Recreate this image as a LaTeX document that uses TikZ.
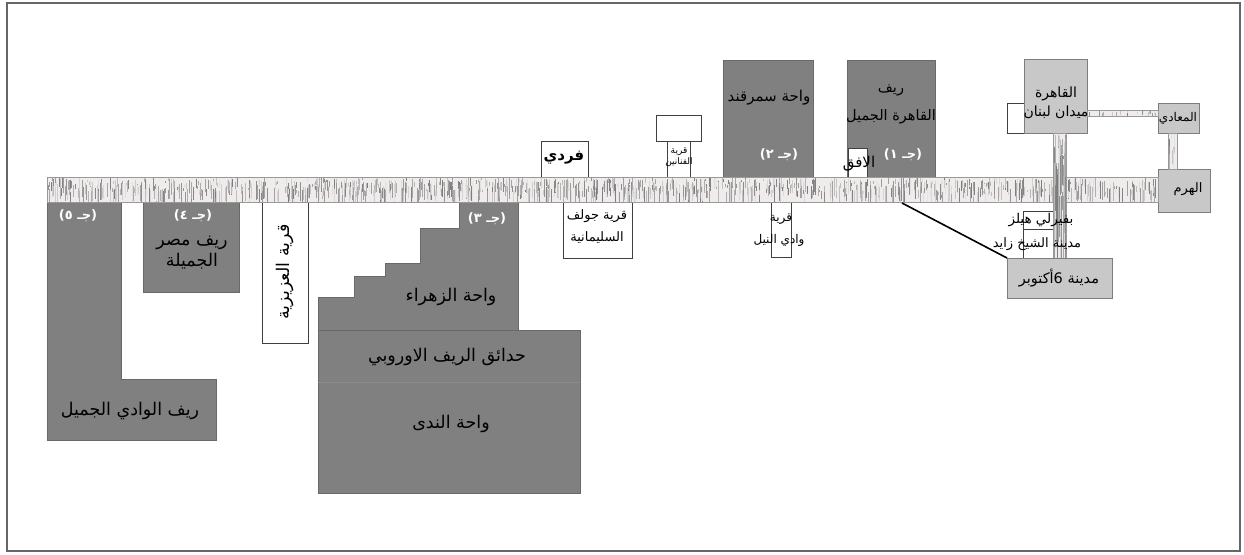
\documentclass[tikz,border=0pt]{standalone}
\usepackage{fontspec}
\newfontfamily\ar[Script=Arabic]{DejaVu Sans}
\TeXXeTstate=1
\newcommand\AR[1]{\beginR #1\endR}
\newcommand\fs[2]{\fontsize{#1}{#2}\selectfont}
\definecolor{dk}{RGB}{128,128,128}
\definecolor{dkb}{RGB}{105,105,105}
\definecolor{lt}{RGB}{200,200,200}
\definecolor{ltb}{RGB}{125,125,125}
\definecolor{roadbg}{RGB}{240,236,236}
\newcommand\roadtex[4]{%
  \fill[roadbg] (#1,#2) rectangle (#3,#4);
  \pgfmathtruncatemacro\nn{(#3-#1)/22*(#4-#2)}
  \foreach \k in {1,...,\nn}{%
    \pgfmathsetmacro\xx{#1+0.5+rnd*(#3-#1-1)}
    \pgfmathtruncatemacro\gg{10+rnd*42}
    \pgfmathsetmacro\ya{#2+rnd*(#4-#2)*0.6}
    \pgfmathsetmacro\yb{min(\ya+2+rnd*(#4-#2)*0.7,#4)}
    \draw[black!\gg, line width=0.9pt] (\xx,\ya) -- (\xx,\yb);
  }
  \draw[black!40, line width=0.7pt] (#1,#2) rectangle (#3,#4);
}
\begin{document}
\begin{tikzpicture}[x=1pt,y=-1pt,
  darkbox/.style={fill=dk, draw=dkb, line width=0.9pt},
  lightbox/.style={fill=lt, draw=ltb, line width=0.9pt},
  whitebox/.style={fill=white, draw=black!75, line width=0.8pt},
  lbl/.style={font=\ar\fs{17.5}{21}, text=black, align=center, inner sep=0pt},
  slbl/.style={font=\ar\fs{13}{22}, text=black, align=center, inner sep=0pt},
  wlbl/.style={font=\ar\bfseries\fs{13}{16}, text=white, inner sep=0pt},
  link/.style={draw=black, line width=1.6pt}]
\pgfmathsetseed{7}
\useasboundingbox (0,0) rectangle (1244,554);
\draw[black!60, line width=1.2pt] (7,3) rectangle (1240,551);

% ---- south side blocks ----
\draw[darkbox] (47,202) -- (121,202) -- (121,379) -- (216,379) -- (216,440) -- (47,440) -- cycle;
\draw[darkbox] (143,202) rectangle (239,292);
\draw[whitebox] (262,202) rectangle (308,343);
\draw[darkbox] (318,330) rectangle (580,493);
\draw[black!45, line width=0.8pt] (318,382) -- (580,382);
\draw[darkbox] (459,202) -- (518,202) -- (518,330) -- (318,330) -- (318,297) -- (354,297) -- (354,276)
  -- (385,276) -- (385,263) -- (420,263) -- (420,228) -- (459,228) -- cycle;
\draw[whitebox] (563,202) rectangle (632,258);
\draw[whitebox] (771,202) rectangle (791,257);

% ---- north side blocks ----
\draw[whitebox] (541,141) rectangle (588,177);
\draw[whitebox] (656,115) rectangle (701,141);
\draw[whitebox] (667,141) rectangle (690,177);
\draw[darkbox] (723,60) rectangle (813,177);
\draw[darkbox] (847,60) rectangle (935,177);
\draw[whitebox] (848,148) rectangle (867,177);

% ---- right cluster ----
\draw[whitebox] (1007,103) rectangle (1024,133);
\draw[lightbox] (1024,59) rectangle (1087,133);
\draw[lightbox] (1158,103) rectangle (1199,133);
\draw[lightbox] (1158,169) rectangle (1210,212);
\draw[whitebox] (1023,211) rectangle (1053,229);
\draw[whitebox] (1023,229) rectangle (1053,258);

% ---- roads ----
\roadtex{47}{177}{1158}{202}
\roadtex{1087}{110}{1158}{116}
\roadtex{1168}{133}{1177}{169}
\roadtex{1053}{133}{1066}{258}

\draw[lightbox] (1007,258) rectangle (1112,298);
\node[inner sep=0pt] (october) at (1059,278) {};
\coordinate (fork) at (902,203);
\draw[link] (fork) -- (1007,258);

% ---- labels ----
\node[wlbl] (j5) at (78,216) {\AR{(جـ ٥)}};
\node[lbl] (wadi) at (130,411) {\AR{ريف الوادي الجميل}};
\node[wlbl] (j4) at (193,216) {\AR{(جـ ٤)}};
\node[lbl] (misr) at (192,253) {\AR{ريف مصر}\\\AR{الجميلة}};
\node[lbl, rotate=90] (aziz) at (285,272) {\AR{قرية العزيزية}};
\node[wlbl] (j3) at (487,219) {\AR{(جـ ٣)}};
\node[lbl] (zahraa) at (451,297) {\AR{واحة الزهراء}};
\node[lbl] (hadaeq) at (447,357) {\AR{حدائق الريف الاوروبي}};
\node[lbl] (nada) at (451,424) {\AR{واحة الندى}};
\node[slbl] (golf) at (597,227) {\AR{قرية جولف}\\\AR{السليمانية}};
\node[slbl, font=\ar\fs{12}{14}] (nile1) at (781,219) {\AR{قرية}};
\node[slbl, font=\ar\fs{12}{14}] (nile2) at (779,240) {\AR{وادي النيل}};
\node[lbl, font=\ar\bfseries\fs{15}{17}] (fardi) at (564,158) {\AR{فردي}};
\node[slbl, font=\ar\fs{9}{11}] (fanan) at (679,157) {\AR{قرية}\\\AR{الفنانين}};
\node[lbl, font=\ar\fs{15}{18}] (samarq) at (769,98) {\AR{واحة سمرقند}};
\node[wlbl] (j2) at (779,155) {\AR{(جـ ٢)}};
\node[lbl, font=\ar\fs{14.5}{28}] (cairor) at (891,104) {\AR{ريف}\\\AR{القاهرة الجميل}};
\node[wlbl] (j1) at (903,155) {\AR{(جـ ١)}};
\node[lbl, font=\ar\fs{15}{17}] (ofoq) at (859,164) {\AR{الافق}};
\node[slbl, font=\ar\fs{14}{19}] (cairo) at (1056,102.5) {\AR{القاهرة}\\\AR{ميدان لبنان}};
\node[slbl, font=\ar\fs{12}{14}] (maadi) at (1178,118) {\AR{المعادي}};
\node[slbl, font=\ar\fs{13}{15}] (haram) at (1188,189) {\AR{الهرم}};
\node[slbl, font=\ar\fs{13.5}{15}] (bev) at (1041,220) {\AR{بفيرلي هيلز}};
\node[slbl, font=\ar\fs{13}{15}] (zayed) at (1037,244) {\AR{مدينة الشيخ زايد}};
\node[slbl, font=\ar\fs{14.5}{16}] (oct) at (october) {\AR{مدينة 6أكتوبر}};
\end{tikzpicture}
\end{document}
